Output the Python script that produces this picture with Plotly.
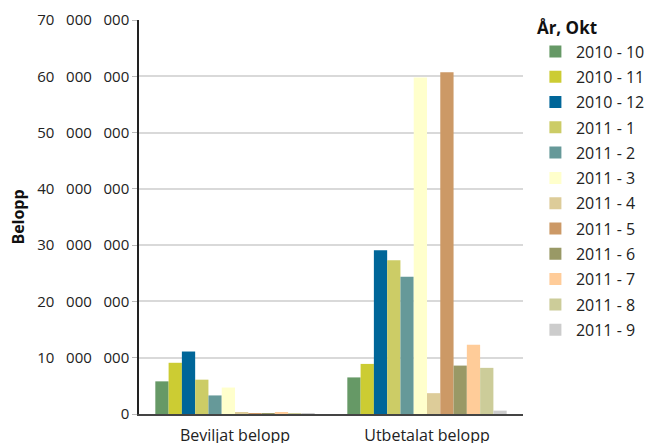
import plotly.graph_objects as go

categories = ["Beviljat belopp", "Utbetalat belopp"]
periods = ["2010 - 10", "2010 - 11", "2010 - 12", "2011 - 1", "2011 - 2", "2011 - 3",
           "2011 - 4", "2011 - 5", "2011 - 6", "2011 - 7", "2011 - 8", "2011 - 9"]
beviljat = [5800000, 9100000, 11100000, 6100000, 3300000, 4700000,
            200000, 100000, 100000, 200000, 100000, 50000]
utbetalat = [6500000, 8900000, 29100000, 27300000, 24400000, 59800000,
             3700000, 60700000, 8600000, 12300000, 8200000, 600000]
colors = ["#669966", "#CCCC33", "#006699", "#CCCC66", "#669999", "#FFFFCC",
          "#DDCC99", "#CC9966", "#999966", "#FFCC99", "#CCCC99", "#CCCCCC"]
tick_vals = [0, 10000000, 20000000, 30000000, 40000000, 50000000, 60000000, 70000000]

def fmt(v):
    s = f"{v:,}"
    return s.replace(",", "\u00a0\u00a0\u00a0")

FONT = "Open Sans"

fig = go.Figure()
for i, p in enumerate(periods):
    fig.add_trace(go.Bar(
        x=categories, y=[beviljat[i], utbetalat[i]], name=p,
        marker=dict(color=colors[i], line=dict(width=0)),
        legendgroup=p,
    ))

fig.update_layout(
    width=645, height=443,
    margin=dict(l=139, r=122, t=20, b=29, autoexpand=False),
    barmode="group", bargap=0.17, bargroupgap=0,
    plot_bgcolor="white", paper_bgcolor="white",
    font=dict(family=FONT, size=16, color="#222222"),
    legend=dict(
        title=dict(text="<b>År, Okt</b>", font=dict(size=17, color="#111111")),
        x=1.031, xanchor="left", yref="container", y=0.972, yanchor="top",
        tracegroupgap=1.5, font=dict(size=16), itemwidth=31,
        maxheight=1.0,
        itemclick=False,
    ),
    showlegend=True,
)
fig.update_yaxes(
    range=[0, 70000000], tickvals=tick_vals, ticktext=[fmt(v) for v in tick_vals],
    tickfont=dict(size=15),
    showgrid=True, gridcolor="#D9D9D9", gridwidth=1.5,
    showline=True, linecolor="#222222", linewidth=1.5,
    ticks="outside", ticklen=5, tickcolor="#BBBBBB",
    title=dict(text="<b>Belopp</b>", font=dict(size=16, color="#111111"), standoff=9),
    zeroline=False, automargin=False,
)
fig.update_xaxes(
    showline=True, linecolor="#444444", linewidth=2,
    ticks="outside", ticklen=6, tickcolor="rgba(0,0,0,0)",
    automargin=False,
)
fig.write_html("out.html", config={"displayModeBar": False},
               post_script="document.body.style.margin='0';")
